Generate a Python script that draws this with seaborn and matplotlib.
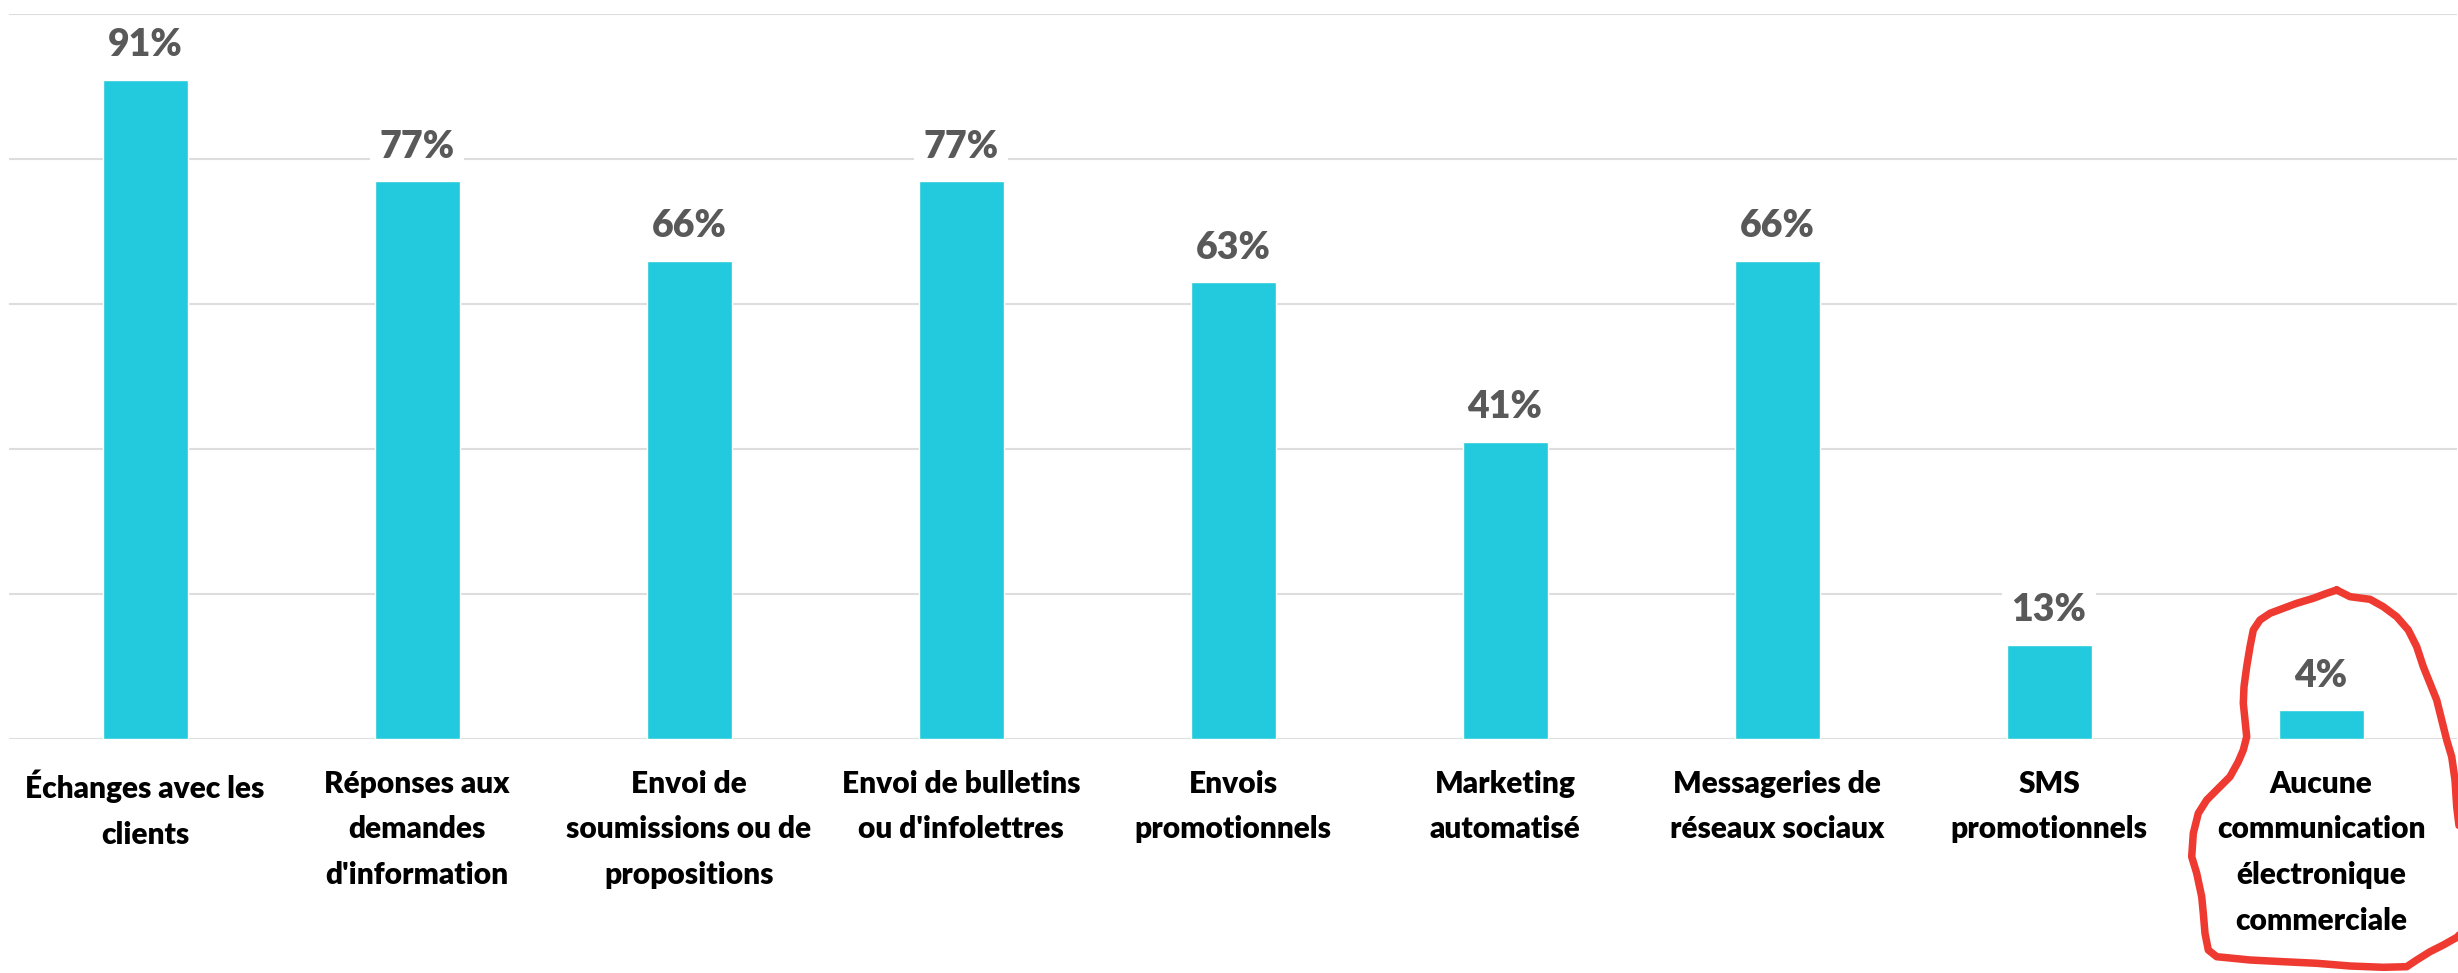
import matplotlib
matplotlib.use("Agg")
import matplotlib.pyplot as plt
import seaborn as sns
import pandas as pd
from matplotlib.lines import Line2D

categories = [
    "Échanges avec les\nclients",
    "Réponses aux\ndemandes\nd'information",
    "Envoi de\nsoumissions ou de\npropositions",
    "Envoi de bulletins\nou d'infolettres",
    "Envois\npromotionnels",
    "Marketing\nautomatisé",
    "Messageries de\nréseaux sociaux",
    "SMS\npromotionnels",
    "Aucune\ncommunication\nélectronique\ncommerciale",
]
values = [91, 77, 66, 77, 63, 41, 66, 13, 4]
value_labels = ["91%", "77%", "66%", "77%", "63%", "41%", "66%", "13%", "4%"]
grid_ticks = [0, 20, 40, 60, 80, 100]

# hand-drawn red highlight around the last category (figure pixel coords, from top-left)
circle_x = [2336.7, 2350, 2370, 2383.3, 2396.7, 2408.3, 2416.7, 2423.3, 2430, 2436.7, 2441.7,
            2446.7, 2451.7, 2455, 2456.7, 2462, 2465, 2462, 2458, 2443.3, 2430, 2416.7, 2406.7,
            2383.3, 2350, 2316.7, 2283.3, 2250, 2216.7, 2208.3, 2205, 2203.3, 2201.7, 2196.7,
            2191.7, 2193.3, 2198.3, 2206.7, 2220, 2230, 2238.3, 2243.3, 2246.7, 2245, 2243.3,
            2244, 2246.7, 2250, 2253.3, 2260, 2270, 2283.3, 2296.7, 2313.3, 2326.7, 2336.7]
circle_y = [590, 596.7, 599.3, 606.7, 616.7, 630, 646.7, 666.7, 683.3, 700, 720,
            740, 756.7, 780, 806.7, 850, 900, 930, 936.7, 945, 951.7, 960, 966.7,
            967.3, 966, 963.3, 961.7, 960, 956.7, 950, 933.3, 913.3, 896.7, 873.3,
            856.7, 833.3, 813.3, 800, 786.7, 776.7, 761.7, 750, 736.7, 720, 703.3,
            686.7, 666.7, 646.7, 630, 620, 613.3, 608.3, 603.3, 598.3, 593.3, 590]

W, H = 2458, 973
sns.set_theme(style="white")
plt.rcParams["font.family"] = ["Lato", "DejaVu Sans"]

fig = plt.figure(figsize=(W / 100, H / 100), dpi=100)
ax = fig.add_axes([9 / W, (H - 739) / H, (2457 - 9) / W, (739 - 14.3) / H])

df = pd.DataFrame({"cat": categories, "val": values})
sns.barplot(data=df, x="cat", y="val", color="#23C9DD", saturation=1,
            width=0.3125, ax=ax, zorder=2)

ax.set_xlim(-0.5, len(categories) - 0.5)
ax.set_ylim(0, 100)
ax.set_yticks(grid_ticks)
ax.set_yticklabels([])
ax.tick_params(axis="y", length=0)
ax.yaxis.grid(True, color="#DDDDDD", linewidth=1.5, zorder=0)
ax.xaxis.grid(False)
ax.set_axisbelow(True)
for s in ax.spines.values():
    s.set_visible(False)
ax.set_xlabel("")
ax.set_ylabel("")

ax.tick_params(axis="x", length=0, pad=22)
plt.setp(ax.get_xticklabels(), fontsize=21.5, fontweight="heavy", color="#000000",
         va="top", ha="center", multialignment="center", linespacing=1.78)

for i, (v, lab) in enumerate(zip(values, value_labels)):
    ax.annotate(lab, xy=(i, v), xytext=(0, 16.9), textcoords="offset points",
                ha="center", va="baseline", fontsize=27, fontweight="heavy",
                color="#595959", zorder=3,
                bbox=dict(boxstyle="square,pad=0.25", fc="white", ec="none"))

fx = [x / W for x in circle_x]
fy = [(H - y) / H for y in circle_y]
fig.add_artist(Line2D(fx, fy, transform=fig.transFigure, color="#EE3A31",
                      linewidth=5.4, solid_joinstyle="round", solid_capstyle="round"))

fig.savefig("out.png", dpi=100)
